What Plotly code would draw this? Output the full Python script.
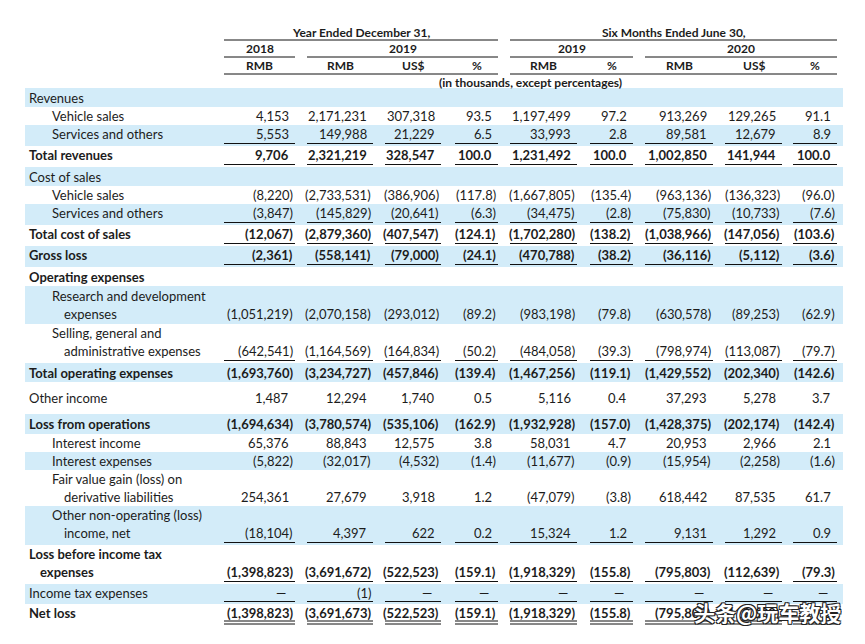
import plotly.graph_objects as go

# ---------------- data ----------------
row_labels = [
    ["Revenues"],
    ["Vehicle sales"],
    ["Services and others"],
    ["Total revenues"],
    ["Cost of sales"],
    ["Vehicle sales"],
    ["Services and others"],
    ["Total cost of sales"],
    ["Gross loss"],
    ["Operating expenses"],
    ["Research and development", "expenses"],
    ["Selling, general and", "administrative expenses"],
    ["Total operating expenses"],
    ["Other income"],
    ["Loss from operations"],
    ["Interest income"],
    ["Interest expenses"],
    ["Fair value gain (loss) on", "derivative liabilities"],
    ["Other non-operating (loss)", "income, net"],
    ["Loss before income tax", "expenses"],
    ["Income tax expenses"],
    ["Net loss"],
]

y2018_rmb = ["", "4,153", "5,553", "9,706", "", "(8,220)", "(3,847)", "(12,067)", "(2,361)", "",
             "(1,051,219)", "(642,541)", "(1,693,760)", "1,487", "(1,694,634)", "65,376", "(5,822)",
             "254,361", "(18,104)", "(1,398,823)", "—", "(1,398,823)"]
y2019_rmb = ["", "2,171,231", "149,988", "2,321,219", "", "(2,733,531)", "(145,829)", "(2,879,360)",
             "(558,141)", "", "(2,070,158)", "(1,164,569)", "(3,234,727)", "12,294", "(3,780,574)",
             "88,843", "(32,017)", "27,679", "4,397", "(3,691,672)", "(1)", "(3,691,673)"]
y2019_usd = ["", "307,318", "21,229", "328,547", "", "(386,906)", "(20,641)", "(407,547)", "(79,000)", "",
             "(293,012)", "(164,834)", "(457,846)", "1,740", "(535,106)", "12,575", "(4,532)",
             "3,918", "622", "(522,523)", "—", "(522,523)"]
y2019_pct = ["", "93.5", "6.5", "100.0", "", "(117.8)", "(6.3)", "(124.1)", "(24.1)", "",
             "(89.2)", "(50.2)", "(139.4)", "0.5", "(162.9)", "3.8", "(1.4)", "1.2", "0.2",
             "(159.1)", "—", "(159.1)"]
h2019_rmb = ["", "1,197,499", "33,993", "1,231,492", "", "(1,667,805)", "(34,475)", "(1,702,280)",
             "(470,788)", "", "(983,198)", "(484,058)", "(1,467,256)", "5,116", "(1,932,928)",
             "58,031", "(11,677)", "(47,079)", "15,324", "(1,918,329)", "—", "(1,918,329)"]
h2019_pct = ["", "97.2", "2.8", "100.0", "", "(135.4)", "(2.8)", "(138.2)", "(38.2)", "",
             "(79.8)", "(39.3)", "(119.1)", "0.4", "(157.0)", "4.7", "(0.9)", "(3.8)", "1.2",
             "(155.8)", "—", "(155.8)"]
h2020_rmb = ["", "913,269", "89,581", "1,002,850", "", "(963,136)", "(75,830)", "(1,038,966)",
             "(36,116)", "", "(630,578)", "(798,974)", "(1,429,552)", "37,293", "(1,428,375)",
             "20,953", "(15,954)", "618,442", "9,131", "(795,803)", "—", "(795,803)"]
h2020_usd = ["", "129,265", "12,679", "141,944", "", "(136,323)", "(10,733)", "(147,056)", "(5,112)", "",
             "(89,253)", "(113,087)", "(202,340)", "5,278", "(202,174)", "2,966", "(2,258)",
             "87,535", "1,292", "(112,639)", "—", "(112,639)"]
h2020_pct = ["", "91.1", "8.9", "100.0", "", "(96.0)", "(7.6)", "(103.6)", "(3.6)", "",
             "(62.9)", "(79.7)", "(142.6)", "3.7", "(142.4)", "2.1", "(1.6)", "61.7", "0.9",
             "(79.3)", "—", "(79.3)"]

columns = [y2018_rmb, y2019_rmb, y2019_usd, y2019_pct, h2019_rmb, h2019_pct, h2020_rmb, h2020_usd, h2020_pct]
currency_headers = ["RMB", "RMB", "US$", "%", "RMB", "%", "RMB", "US$", "%"]
year_headers = [("2018", 0, 0), ("2019", 1, 3), ("2019", 4, 5), ("2020", 6, 8)]
period_headers = [("Year Ended December 31,", 0, 3), ("Six Months Ended June 30,", 4, 8)]
units_note = "(in thousands, except percentages)"
watermark = "头条@玩车教授"

bold_rows = {3, 7, 8, 9, 12, 14, 19, 21}
indent_level = [0, 1, 1, 0, 0, 1, 1, 0, 0, 0, 1, 1, 0, 0, 0, 1, 1, 1, 1, 0, 0, 0]
underline = {2: 1, 3: 1, 6: 1, 7: 1, 8: 1, 11: 1, 18: 1, 19: 1, 20: 1, 21: 2}

# ---------------- layout (style / geometry) ----------------
W, H = 865, 644
PAGE_MARGIN = 8          # default body margin of the html page
FONT = "Lato"
TXT = "#1c1c1c"
BAND = "#d3ecf9"
col_left = [224, 307, 385, 455, 510, 590, 645, 725, 793]
col_right = [295, 373, 441, 498, 577, 633, 713, 782, 837]
row_height = [19, 18, 21, 21, 19, 18, 21, 21, 21, 19, 38, 39, 19, 32, 20, 18, 18, 36, 39, 39, 20, 21]
table_top = 88
band_x0, band_x1 = 25, 843
label_x = [27, 50]
cont_x = {0: 38, 1: 62}
line_gap = 18
body_size = 13
head_size = 12

shapes = []
annotations = []


def add_text(x, y, text, anchor="left", bold=False, size=body_size, xshift=0):
    annotations.append(dict(
        x=x, y=y, xref="x", yref="y", text=text, showarrow=False,
        xanchor=anchor, yanchor="middle", xshift=xshift,
        font=dict(family=FONT, size=size, color=TXT, weight=700 if bold else 400),
    ))


def add_line(x0, x1, y, width=1):
    shapes.append(dict(type="line", xref="x", yref="y", x0=x0, x1=x1, y0=y, y1=y,
                       line=dict(color="#111111", width=width)))


# header
for text, c0, c1 in period_headers:
    add_text((col_left[c0] + col_right[c1]) / 2, 32, text, "center", True, head_size)
    add_line(col_left[c0], col_right[c1], 40)
for text, c0, c1 in year_headers:
    xc = (col_left[c0] + col_right[c1]) / 2
    add_text(xc, 48.5, text, "center", True, head_size)
    add_line(col_left[c0], col_right[c1], 57)
for i, text in enumerate(currency_headers):
    add_text((col_left[i] + col_right[i]) / 2, 65.5, text, "center", True, head_size)
add_line(col_left[0], col_right[3], 74)
add_line(col_left[4], col_right[8], 74)
add_text((col_left[0] + col_right[8]) / 2, 82, units_note, "center", True, head_size)

# body
top = table_top
for r, lines in enumerate(row_labels):
    h = row_height[r]
    ul = underline.get(r, 0)
    mid = top + (h - (3 if ul else 0)) / 2
    n = len(lines)
    ys = [mid + line_gap * (j - (n - 1) / 2) for j in range(n)]
    if r % 2 == 0:
        shapes.append(dict(type="rect", xref="x", yref="y", x0=band_x0, x1=band_x1,
                           y0=top, y1=top + h, fillcolor=BAND, line=dict(width=0), layer="below"))
    bold = r in bold_rows
    lvl = indent_level[r]
    for j, txt in enumerate(lines):
        x = label_x[lvl] if j == 0 else cont_x[lvl]
        add_text(x, ys[j], txt, "left", bold)
    yv = ys[-1]
    for c, col in enumerate(columns):
        v = col[r]
        if not v:
            continue
        shift = 0 if v.endswith(")") else (-7 if v == "—" else -4)
        add_text(col_right[c], yv, v, "right", bold, xshift=shift)
        if ul == 1:
            add_line(col_left[c], col_right[c], top + h - 2.5)
        elif ul == 2:
            add_line(col_left[c], col_right[c], top + h - 4)
            add_line(col_left[c], col_right[c], top + h - 1)
    top += h

# watermark (overlays the last row, as in the source image)
annotations.append(dict(
    x=767, y=612, xref="x", yref="y", text=watermark, showarrow=False,
    xanchor="center", yanchor="middle",
    font=dict(family="Noto Sans CJK SC", size=21, color="white", weight=700,
              shadow="-1px -1px 0 #222, 1px -1px 0 #222, -1px 1px 0 #222, 1px 1px 0 #222"),
))

fig = go.Figure()
fig.update_layout(
    width=W - PAGE_MARGIN, height=H - PAGE_MARGIN,
    margin=dict(l=0, r=0, t=0, b=0),
    paper_bgcolor="white", plot_bgcolor="white",
    xaxis=dict(range=[PAGE_MARGIN, W], visible=False, fixedrange=True),
    yaxis=dict(range=[H, PAGE_MARGIN], visible=False, fixedrange=True),
    shapes=shapes, annotations=annotations,
    showlegend=False,
)
fig.write_html("out.html")
